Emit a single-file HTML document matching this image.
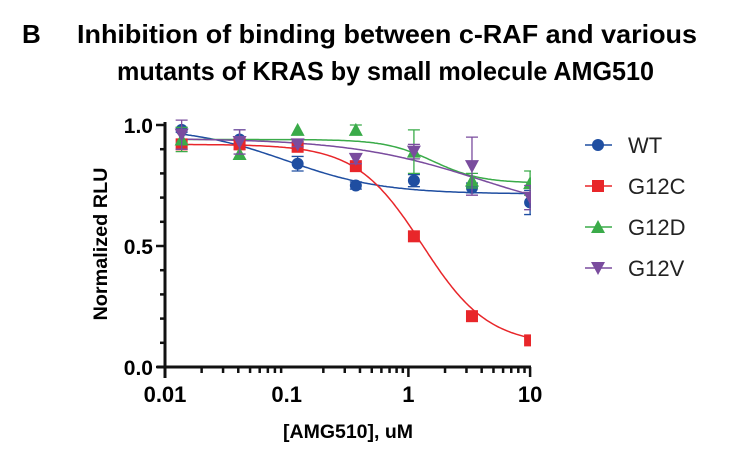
<!DOCTYPE html>
<html><head><style>
body{margin:0;width:746px;height:452px;background:#fff;overflow:hidden}
svg{font-family:"Liberation Sans",Arial,sans-serif}
</style></head><body>
<svg id="s" width="746" height="452" xmlns="http://www.w3.org/2000/svg">
<text x="22" y="43" font-size="26" font-weight="bold">B</text>
<text x="77" y="43" font-size="26" font-weight="bold" textLength="620" lengthAdjust="spacingAndGlyphs">Inhibition of binding between c-RAF and various</text>
<text x="117" y="80" font-size="26" font-weight="bold" textLength="537" lengthAdjust="spacingAndGlyphs">mutants of KRAS by small molecule AMG510</text>
<text transform="translate(107,244) rotate(-90)" font-size="19.5" font-weight="bold" text-anchor="middle" textLength="153" lengthAdjust="spacingAndGlyphs">Normalized RLU</text>
<text x="348" y="438" font-size="19" font-weight="bold" text-anchor="middle" textLength="130" lengthAdjust="spacingAndGlyphs">[AMG510], uM</text>
<g id="ax"></g>
<g id="data"></g>
<g font-size="22" fill="#222">
<line x1="585" y1="145" x2="612" y2="145" stroke="#1f4ea1" stroke-width="1.5"/><circle cx="598" cy="145" r="6" fill="#1f4ea1"/><text x="628" y="153">WT</text>
<line x1="585" y1="186" x2="612" y2="186" stroke="#e8262a" stroke-width="1.5"/><rect x="592" y="180" width="12" height="12" fill="#e8262a"/><text x="628" y="194">G12C</text>
<line x1="585" y1="227" x2="612" y2="227" stroke="#3aab49" stroke-width="1.5"/><polygon points="598,220 605,233 591,233" fill="#3aab49"/><text x="628" y="235">G12D</text>
<line x1="585" y1="268" x2="612" y2="268" stroke="#7a4c9e" stroke-width="1.5"/><polygon points="591,262 605,262 598,275" fill="#7a4c9e"/><text x="628" y="276">G12V</text>
</g>
</svg>
<script>
const X=v=>165+(Math.log10(v)+2)*121.7, Y=v=>367-v*242;
let ax="";
ax+=`<line x1="165" y1="122" x2="165" y2="378" stroke="#111" stroke-width="3"/>`;
ax+=`<line x1="157" y1="367" x2="531" y2="367" stroke="#111" stroke-width="3"/>`;
for(let i=0;i<=10;i++){let y=Y(i/10);let L=(i%5==0)?9:5;ax+=`<line x1="${165-L}" y1="${y}" x2="165" y2="${y}" stroke="#111" stroke-width="2.5"/>`;}
[["0.0",0],["0.5",.5],["1.0",1]].forEach(([t,v])=>ax+=`<text x="153" y="${Y(v)+8}" font-size="21" font-weight="bold" text-anchor="end">${t}</text>`);
for(let d=-2;d<1;d++)for(let m=2;m<10;m++){let x=X(m*10**d);ax+=`<line x1="${x}" y1="367" x2="${x}" y2="373" stroke="#111" stroke-width="2.5"/>`;}
[1,10].forEach(v=>ax+=`<line x1="${X(v)}" y1="367" x2="${X(v)}" y2="377" stroke="#111" stroke-width="2.5"/>`);
[["0.01",.01],["0.1",.1],["1",1],["10",10]].forEach(([t,v])=>ax+=`<text x="${X(v)}" y="402" font-size="22" font-weight="bold" text-anchor="middle">${t}</text>`);
document.getElementById("ax").innerHTML=ax;
const xs=[0.0137,0.041,0.123,0.37,1.11,3.33,10];
const S=[
{c:"#1f4ea1",m:"c",y:[.98,.94,.84,.75,.77,.74,.68],e:[.01,.04,.03,.015,.025,.02,.05],p:[.99,.715,.1,1.1]},
{c:"#e8262a",m:"s",y:[.92,.92,.91,.83,.54,.21,.11],e:[0,0,0,0,0,0,0],p:[.92,.09,1.3,1.6]},
{c:"#3aab49",m:"u",y:[.94,.88,.98,.98,.89,.77,.76],e:[.05,0,0,.02,.09,.03,.05],p:[.94,.76,1.6,2.2]},
{c:"#7a4c9e",m:"d",y:[.96,.93,.92,.86,.89,.83,.70],e:[.06,.05,.01,.02,.03,.12,.05],p:[.945,.6,4,.8]}];
let h=`<clipPath id="cp"><rect x="150" y="100" width="381" height="280"/></clipPath><g clip-path="url(#cp)">`;
S.forEach(s=>{let [t,b,ic,n]=s.p;let d="";for(let i=0;i<=200;i++){let lx=Math.log10(0.0137)+i/200*(1-Math.log10(0.0137));let x=10**lx;let v=b+(t-b)/(1+(x/ic)**n);d+=(i?"L":"M")+X(x).toFixed(1)+","+Y(v).toFixed(1);}
h+=`<path d="${d}" fill="none" stroke="${s.c}" stroke-width="1.5"/>`;});
S.forEach(s=>{xs.forEach((x,i)=>{let cx=X(x),cy=Y(s.y[i]),e=s.e[i]*242;
if(e>0)h+=`<path d="M${cx},${cy-e}V${cy+e}M${cx-6},${cy-e}H${cx+6}M${cx-6},${cy+e}H${cx+6}" stroke="${s.c}" stroke-width="1.3"/>`;
if(s.m=="c")h+=`<circle cx="${cx}" cy="${cy}" r="6" fill="${s.c}"/>`;
if(s.m=="s")h+=`<rect x="${cx-6}" y="${cy-6}" width="12" height="12" fill="${s.c}"/>`;
if(s.m=="u")h+=`<polygon points="${cx},${cy-7} ${cx+7},${cy+6} ${cx-7},${cy+6}" fill="${s.c}"/>`;
if(s.m=="d")h+=`<polygon points="${cx-7},${cy-6} ${cx+7},${cy-6} ${cx},${cy+7}" fill="${s.c}"/>`;});});
h+="</g>";
document.getElementById("data").innerHTML=h;
</script>
</body></html>
